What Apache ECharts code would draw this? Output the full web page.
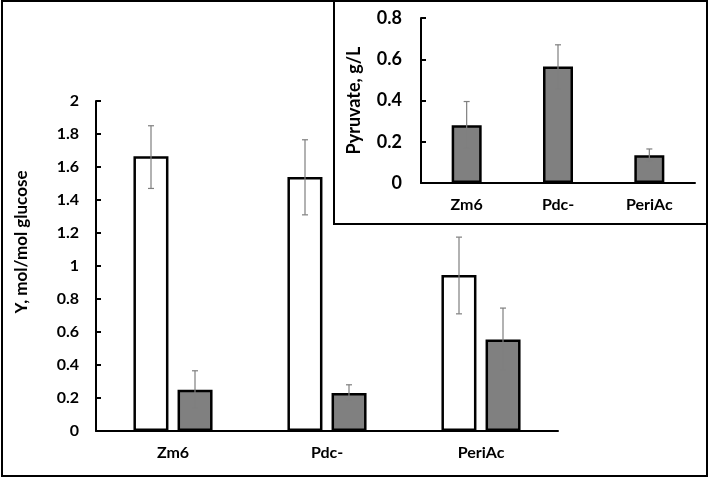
<!DOCTYPE html>
<html>
<head>
<meta charset="utf-8">
<script src="https://cdn.jsdelivr.net/npm/echarts@6/dist/echarts.min.js"></script>
<style>html,body{margin:0;padding:0;background:#fff}#c{width:709px;height:478px}</style>
</head>
<body>
<div id="c"></div>
<script>
const categories = ['Zm6', 'Pdc-', 'PeriAc'];
const mainTitle = 'Y, mol/mol glucose';
const insetTitle = 'Pyruvate, g/L';
const whiteValues = [1.665, 1.54, 0.945];
const whiteLow = [1.47, 1.31, 0.71];
const whiteHigh = [1.85, 1.765, 1.175];
const grayValues = [0.25, 0.23, 0.555];
const grayLow = [0.14, 0.19, 0.37];
const grayHigh = [0.365, 0.28, 0.745];
const insetValues = [0.28, 0.565, 0.135];
const insetLow = [0.17, 0.455, 0.105];
const insetHigh = [0.395, 0.67, 0.165];

const FONT = 'Lato';
const chart = echarts.init(document.getElementById('c'), null, {renderer: 'canvas'});

function errSeries(name, xi, yi, lows, highs, offset) {
  return {
    type: 'custom', name: name, xAxisIndex: xi, yAxisIndex: yi, z: 10,
    data: categories.map((c, i) => [i, lows[i], highs[i]]),
    renderItem: function (params, api) {
      const lo = api.coord([api.value(0), api.value(1)]);
      const hi = api.coord([api.value(0), api.value(2)]);
      const x = lo[0] + offset, cw = 3;
      const st = {stroke: '#7f7f7f', lineWidth: 1.2};
      return {type: 'group', children: [
        {type: 'line', shape: {x1: x, y1: lo[1], x2: x, y2: hi[1]}, style: st},
        {type: 'line', shape: {x1: x - cw, y1: lo[1], x2: x + cw, y2: lo[1]}, style: st},
        {type: 'line', shape: {x1: x - cw, y1: hi[1], x2: x + cw, y2: hi[1]}, style: st}
      ]};
    }
  };
}

const axisLineStyle = {show: true, lineStyle: {color: '#000', width: 2}};
const tickStyle = {show: true, inside: true, length: 5, lineStyle: {color: '#000', width: 2}};
const fmt = v => String(parseFloat(v.toFixed(1)));

chart.setOption({
  animation: false,
  backgroundColor: '#fff',
  graphic: [
    {type: 'rect', shape: {x: 2, y: 1, width: 705, height: 475}, style: {fill: 'none', stroke: '#000', lineWidth: 2}, z: 100},
    {type: 'rect', shape: {x: 334, y: 1, width: 373, height: 223}, style: {fill: '#fff', stroke: '#000', lineWidth: 2}, z: -1},
    {type: 'text', x: 22, y: 242, rotation: Math.PI / 2,
     style: {text: mainTitle, fill: '#000', font: 'bold 17px ' + FONT, align: 'center', verticalAlign: 'middle'}}
  ],
  grid: [
    {left: 96, right: 151, top: 101, bottom: 47},
    {left: 421, right: 14, top: 18, bottom: 295}
  ],
  xAxis: [
    {type: 'category', gridIndex: 0, data: categories, axisLine: axisLineStyle, axisTick: {show: false},
     axisLabel: {color: '#000', fontFamily: FONT, fontWeight: 'bold', fontSize: 16, margin: 14}},
    {type: 'category', gridIndex: 1, data: categories, axisLine: axisLineStyle, axisTick: {show: false},
     axisLabel: {color: '#000', fontFamily: FONT, fontWeight: 'bold', fontSize: 16, margin: 14}}
  ],
  yAxis: [
    {type: 'value', gridIndex: 0, min: 0, max: 2, interval: 0.2, axisLine: axisLineStyle, axisTick: tickStyle,
     splitLine: {show: false},
     axisLabel: {color: '#000', fontFamily: FONT, fontWeight: 'bold', fontSize: 16, margin: 17, formatter: fmt}},
    {type: 'value', gridIndex: 1, min: 0, max: 0.8, interval: 0.2, axisLine: axisLineStyle, axisTick: tickStyle,
     splitLine: {show: false},
     axisLabel: {color: '#000', fontFamily: FONT, fontWeight: 'bold', fontSize: 18, margin: 19, formatter: fmt},
     name: insetTitle, nameLocation: 'middle', nameGap: 58, nameRotate: 90,
     nameTextStyle: {color: '#000', fontFamily: FONT, fontWeight: 'bold', fontSize: 18}}
  ],
  series: [
    {type: 'bar', xAxisIndex: 0, yAxisIndex: 0, data: whiteValues, barWidth: 35, barGap: '26%',
     itemStyle: {color: '#fff', borderColor: '#000', borderWidth: 2.5}},
    {type: 'bar', xAxisIndex: 0, yAxisIndex: 0, data: grayValues, barWidth: 35, barGap: '26%',
     itemStyle: {color: '#808080', borderColor: '#000', borderWidth: 2.5}},
    {type: 'bar', xAxisIndex: 1, yAxisIndex: 1, data: insetValues, barWidth: 30,
     itemStyle: {color: '#808080', borderColor: '#000', borderWidth: 2.5}},
    errSeries('e1', 0, 0, whiteLow, whiteHigh, -22),
    errSeries('e2', 0, 0, grayLow, grayHigh, 22),
    errSeries('e3', 1, 1, insetLow, insetHigh, 0)
  ]
});
</script>
</body>
</html>
